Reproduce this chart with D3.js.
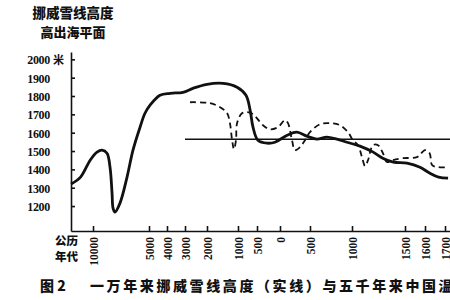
<!DOCTYPE html>
<html>
<head>
<meta charset="utf-8">
<script src="https://cdn.jsdelivr.net/npm/d3@7"></script>
<style>
  body { margin: 0; background: #fff; }
  svg text { fill: #111; }
  .axis path, .axis line { stroke: #111; stroke-width: 1.6; }
</style>
</head>
<body>
<div id="chart"></div>
<script>
// Norway snowline (solid). year < 0 means BC, height in metres
var snowYears = [-12000, -11130, -10260, -9640, -9200, -8750, -8480, -8300, -8210, -8040,
  -7590, -6960, -6430, -5800, -5360, -4940, -4390, -3830, -3110, -2640,
  -2000, -1480, -1030, -790, -680, -605, -480, -280, -110, 120,
  280, 450, 580, 700, 820, 940, 1075, 1200, 1290, 1390,
  1510, 1575, 1623, 1668, 1714];
var snowHeights = [1320, 1358, 1450, 1494, 1505, 1488, 1412, 1271, 1189, 1167,
  1216, 1358, 1505, 1630, 1706, 1750, 1804, 1815, 1820, 1842,
  1864, 1869, 1848, 1804, 1722, 1630, 1559, 1543, 1548, 1586,
  1603, 1581, 1565, 1576, 1565, 1548, 1527, 1494, 1461, 1440,
  1434, 1412, 1380, 1358, 1352];

// China temperature curve (dashed), drawn on the same height scale
var chinaYears = [-2770, -1900, -1580, -1350, -1260, -1190, -1130, -1065, -1030, -895,
  -760, -605, -370, -220, -45, 83, 133, 200, 250, 333,
  417, 500, 620, 738, 857, 952, 1009, 1057, 1094, 1123,
  1151, 1198, 1245, 1292, 1330, 1387, 1481, 1560, 1600, 1623,
  1636, 1668, 1714];
var chinaValues = [1766, 1761, 1739, 1706, 1652, 1559, 1510, 1559, 1652, 1706,
  1712, 1701, 1641, 1619, 1630, 1668, 1652, 1559, 1505, 1521,
  1559, 1603, 1646, 1652, 1641, 1603, 1559, 1532, 1467, 1418,
  1450, 1532, 1532, 1488, 1440, 1450, 1461, 1467, 1505, 1488,
  1423, 1412, 1412];

// present-day level (horizontal line)
var presentLevel = 1564;
var presentFrom = -3000;

var heightTicks = [1200, 1300, 1400, 1500, 1600, 1700, 1800, 1900, 2000];
var yearTicks = [-10000, -5000, -4000, -3000, -2000, -1000, -500, 0, 500, 1000, 1500, 1600, 1700];

// the time axis of the figure is stretched unevenly, so the scale is piecewise
var yearBreaks = [-12000, -10000, -5000, -4000, -3000, -2000, -1000, -500, 0, 500, 1000, 1500, 1600, 1700, 1900];
var breakPos   = [0, 22, 78, 96, 114, 136, 167, 186, 209, 239, 281, 334, 354, 374, 418];

var margin = {top: 52, left: 71},
    width = 450 - margin.left,
    height = 231 - margin.top;

var svg = d3.select("#chart")
  .append("svg")
    .attr("width", 450)
    .attr("height", 300)
    .style("font-family", "'Noto Sans CJK SC', sans-serif");

var chart = svg.append("g")
  .attr("transform", "translate(" + margin.left + "," + margin.top + ")");

var x = d3.scaleLinear().domain(yearBreaks).range(breakPos);
var y = d3.scaleLinear().domain([1064, 2040]).range([height, 0]);

// y axis, ticks pointing inward
var yAxis = chart.append("g")
  .attr("class", "axis")
  .call(d3.axisLeft(y).tickValues(heightTicks).tickSizeInner(-4).tickSizeOuter(0)
    .tickPadding(21).tickFormat(d3.format("d")));
yAxis.selectAll("text")
  .attr("dy", "0.36em")
  .style("font-family", "'Liberation Serif', serif")
  .style("font-weight", "bold")
  .style("font-size", "12px")
  .style("letter-spacing", "-0.3px");

chart.append("text")
  .attr("x", -18)
  .attr("y", y(2000))
  .attr("dy", "0.4em")
  .style("font-size", "11px")
  .style("font-weight", "bold")
  .text("米");

// x axis
var xAxis = chart.append("g")
  .attr("class", "axis")
  .attr("transform", "translate(0," + height + ")")
  .call(d3.axisBottom(x).tickValues(yearTicks).tickSizeInner(-5).tickSizeOuter(0)
    .tickFormat(function(d) { return Math.abs(d); }));
xAxis.selectAll("text")
  .attr("transform", "rotate(-90)")
  .attr("text-anchor", "end")
  .attr("x", -6)
  .attr("y", 0)
  .attr("dy", "0.35em")
  .style("font-family", "'Liberation Serif', serif")
  .style("font-weight", "bold")
  .style("font-size", "11.5px");

// lines
var line = d3.line()
  .x(function(d) { return x(d[0]); })
  .y(function(d) { return y(d[1]); })
  .curve(d3.curveCatmullRom.alpha(0.5));

chart.append("path")
  .datum([[presentFrom, presentLevel], [1900, presentLevel]])
  .attr("fill", "none")
  .attr("stroke", "#111")
  .attr("stroke-width", 1.6)
  .attr("d", d3.line().x(function(d) { return x(d[0]); }).y(function(d) { return y(d[1]); }));

chart.append("path")
  .datum(d3.zip(chinaYears, chinaValues))
  .attr("fill", "none")
  .attr("stroke", "#111")
  .attr("stroke-width", 1.8)
  .attr("stroke-dasharray", "6,4")
  .attr("d", line);

chart.append("path")
  .datum(d3.zip(snowYears, snowHeights))
  .attr("fill", "none")
  .attr("stroke", "#111")
  .attr("stroke-width", 2.8)
  .attr("d", line);

// title
svg.append("text")
  .attr("x", 73).attr("y", 18)
  .attr("text-anchor", "middle")
  .style("font-size", "13.5px").style("font-weight", 900)
  .text("挪威雪线高度");
svg.append("text")
  .attr("x", 73).attr("y", 37)
  .attr("text-anchor", "middle")
  .style("font-size", "13px").style("font-weight", 900)
  .text("高出海平面");

// x axis caption
svg.append("text")
  .attr("x", 55).attr("y", 245)
  .style("font-size", "11.5px").style("font-weight", 900)
  .text("公历");
svg.append("text")
  .attr("x", 55).attr("y", 261)
  .style("font-size", "11.5px").style("font-weight", 900)
  .text("年代");

// figure caption
svg.append("text")
  .attr("x", 40).attr("y", 291)
  .style("font-size", "14px").style("font-weight", 900)
  .text("图 2");
svg.append("text")
  .attr("x", 90).attr("y", 291)
  .style("font-size", "14px").style("font-weight", 900)
  .style("letter-spacing", "2.6px")
  .text("一万年来挪威雪线高度（实线）与五千年来中国温度");
</script>
</body>
</html>
